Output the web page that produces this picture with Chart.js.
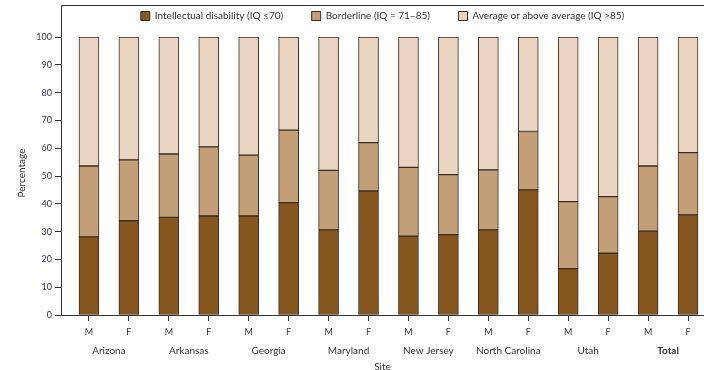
<!DOCTYPE html>
<html>
<head>
<meta charset="utf-8">
<script src="https://cdn.jsdelivr.net/npm/chart.js@4.4.0/dist/chart.umd.min.js"></script>
<style>
  html, body { margin: 0; padding: 0; background: #fff; }
  canvas { display: block; }
</style>
</head>
<body>
<canvas id="iqChart" width="704" height="370"></canvas>
<script>
// sites and sexes, one bar per site and sex
const sites = ['Arizona', 'Arkansas', 'Georgia', 'Maryland', 'New Jersey', 'North Carolina', 'Utah', 'Total'];
const sexes = ['M', 'F'];

// percentages (M, F per site)
const intellectual = [28.1, 33.9, 35.1, 35.6, 35.6, 40.4, 30.6, 44.6, 28.4, 28.9, 30.6, 45.0, 16.7, 22.2, 30.2, 36.0];
const borderline   = [25.5, 21.9, 22.8, 24.9, 21.9, 26.1, 21.4, 17.4, 24.7, 21.6, 21.6, 21.0, 24.1, 20.4, 23.4, 22.4];
const average      = [46.4, 44.2, 42.1, 39.5, 42.5, 33.5, 48.0, 38.0, 46.9, 49.5, 47.8, 34.0, 59.2, 57.4, 46.4, 41.6];

const yTicks = [0, 10, 20, 30, 40, 50, 60, 70, 80, 90, 100];

const barLabels = [];
sites.forEach(() => sexes.forEach(s => barLabels.push(s)));

const toPoints = arr => arr.map((v, i) => ({ x: i, y: v }));

const tickColor = '#33334f';
const lineColor = '#333';

// box around the plot: top line and the part of the y axis beside the legend
const frameTop = {
  id: 'frameTop',
  afterDraw(chart) {
    const a = chart.chartArea;
    const x = Math.round(a.left) + 0.5;
    const ctx = chart.ctx;
    ctx.save();
    ctx.strokeStyle = lineColor;
    ctx.lineWidth = 1;
    ctx.beginPath();
    ctx.moveTo(x, a.top);
    ctx.lineTo(x, 5.5);
    ctx.lineTo(a.right, 5.5);
    ctx.stroke();
    ctx.restore();
  }
};

const commonBar = {
  borderColor: '#3b2e22',
  borderWidth: 1,
  borderSkipped: false,
  barThickness: 20
};

new Chart(document.getElementById('iqChart').getContext('2d'), {
  type: 'bar',
  data: {
    datasets: [
      Object.assign({ label: 'Intellectual disability (IQ ≤70)', data: toPoints(intellectual), backgroundColor: '#85561f' }, commonBar),
      Object.assign({ label: 'Borderline (IQ = 71–85)', data: toPoints(borderline), backgroundColor: '#c39f79' }, commonBar),
      Object.assign({ label: 'Average or above average (IQ >85)', data: toPoints(average), backgroundColor: '#e9d5c2' }, commonBar)
    ]
  },
  plugins: [frameTop],
  options: {
    responsive: false,
    animation: false,
    layout: { padding: { top: 5, right: 0, left: 0, bottom: 0 } },
    plugins: {
      tooltip: { enabled: false },
      legend: {
        position: 'top',
        align: 'center',
        fullSize: false,
        labels: {
          boxWidth: 9,
          boxHeight: 9,
          padding: 6,
          color: '#333',
          font: { family: 'Lato', size: 10 },
          generateLabels: chart => {
            const items = Chart.defaults.plugins.legend.labels.generateLabels(chart);
            // wider gap between the legend entries
            items.forEach((it, i) => {
              it.lineWidth = 1;
              it.strokeStyle = '#3b2e22';
              if (i < items.length - 1) it.text = it.text + '\u2003\u2003\u2003';
            });
            return items;
          }
        }
      }
    },
    scales: {
      x: {
        type: 'linear',
        stacked: true,
        offset: false,
        min: -0.7,
        max: 15.4,
        afterBuildTicks: scale => { scale.ticks = barLabels.map((l, i) => ({ value: i })); },
        afterFit: scale => { scale.height = 24; },
        grid: { offset: false, drawOnChartArea: false, drawTicks: true, tickLength: 6, color: lineColor },
        border: { color: lineColor, width: 1 },
        ticks: {
          color: tickColor,
          padding: 6,
          maxRotation: 0,
          autoSkip: false,
          font: { family: 'Lato', size: 9 },
          callback: v => barLabels[v]
        }
      },
      site: {
        type: 'linear',
        position: 'bottom',
        offset: false,
        min: -0.7,
        max: 15.4,
        afterBuildTicks: scale => { scale.ticks = sites.map((s, i) => ({ value: i * 2 + 0.5 })); },
        afterFit: scale => { scale.height = 31; },
        grid: { display: false, drawTicks: false, offset: false },
        border: { display: false },
        ticks: {
          color: '#333',
          padding: 6,
          maxRotation: 0,
          autoSkip: false,
          font: ctx => ({ family: 'Lato', size: 10, weight: ctx.tick && ctx.tick.value === 14.5 ? 'bold' : 'normal' }),
          callback: v => sites[Math.round((v - 0.5) / 2)]
        },
        title: { display: true, text: 'Site', color: '#333', padding: { top: 0, bottom: -3 }, font: { family: 'Lato', size: 10 } }
      },
      y: {
        stacked: true,
        min: 0,
        max: 102.16,
        afterBuildTicks: scale => { scale.ticks = yTicks.map(v => ({ value: v })); },
        afterFit: scale => { scale.width = 61; },
        grid: { drawOnChartArea: false, drawTicks: true, tickLength: 6, color: lineColor },
        border: { color: lineColor, width: 1 },
        ticks: { color: tickColor, padding: 3, font: { family: 'Lato', size: 9 } },
        title: { display: true, text: 'Percentage', color: '#333', padding: { top: 16, bottom: 0 }, font: { family: 'Lato', size: 10 } }
      }
    }
  }
});
</script>
</body>
</html>
